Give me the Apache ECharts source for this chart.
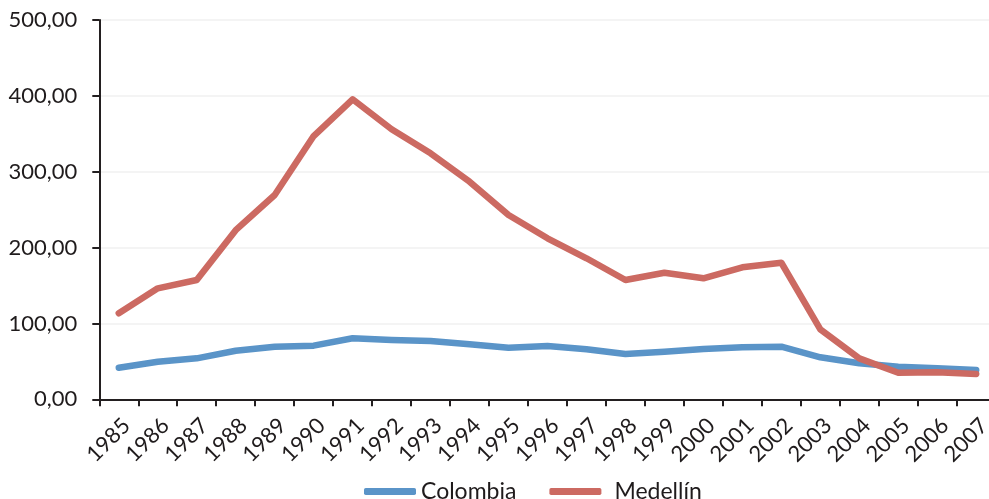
<!DOCTYPE html>
<html>
<head>
<meta charset="utf-8">
<script src="https://cdn.jsdelivr.net/npm/echarts@6/dist/echarts.min.js"></script>
<style>
  html, body { margin: 0; padding: 0; background: #fff; }
  #chart { width: 989px; height: 499px; }
</style>
</head>
<body>
<div id="chart"></div>
<script>
// Years on the category axis
const years = ['1985','1986','1987','1988','1989','1990','1991','1992','1993','1994','1995','1996',
               '1997','1998','1999','2000','2001','2002','2003','2004','2005','2006','2007'];

// Homicide rate series
const colombia = [41.7, 49.6, 54.0, 64.0, 69.3, 70.7, 80.4, 78.2, 76.9, 72.5, 68.0, 70.3,
                  65.9, 59.7, 62.8, 66.3, 68.5, 69.4, 55.4, 47.5, 43.0, 40.9, 38.6];
const medellin = [113.4, 146.3, 157.3, 223.0, 269.3, 347.0, 395.5, 356.0, 324.3, 286.9, 243.0, 212.2,
                  185.9, 157.3, 166.9, 159.5, 174.0, 180.0, 92.3, 54.0, 35.0, 35.5, 33.4];

const seriesNames = ['Colombia', 'Medellín'];
const seriesColors = ['#5a94c8', '#cc6a62'];

const FONT = 'Lato, "DejaVu Sans", sans-serif';
const TEXT = '#1f1b1c';

const chart = echarts.init(document.getElementById('chart'), null, { renderer: 'canvas' });

chart.setOption({
  animation: false,
  backgroundColor: '#ffffff',
  grid: { left: 99.3, top: 20, width: 896.4, height: 379.3, outerBoundsMode: 'none', containLabel: false },
  legend: {
    left: 359,
    top: 475,
    itemWidth: 52,
    itemHeight: 7,
    itemGap: 33,
    icon: 'roundRect',
    formatter: name => name === seriesNames[1] ? '{gap|' + name + '}' : name,
    textStyle: {
      fontFamily: FONT, fontSize: 23, color: TEXT,
      rich: { gap: { fontFamily: FONT, fontSize: 23, color: TEXT, padding: [0, 0, 0, 8] } }
    },
    data: seriesNames
  },
  xAxis: {
    type: 'category',
    data: years,
    boundaryGap: true,
    axisLine: { lineStyle: { color: '#231f20', width: 2 } },
    axisTick: { show: true, alignWithLabel: false, length: 7, lineStyle: { color: '#231f20', width: 2 } },
    axisLabel: {
      rotate: 45,
      interval: 0,
      margin: 15,
      verticalAlign: 'top',
      fontFamily: FONT,
      fontSize: 22,
      color: TEXT
    },
    splitLine: { show: false }
  },
  yAxis: {
    type: 'value',
    min: 0,
    max: 500,
    interval: 100,
    axisLine: { show: true, lineStyle: { color: '#231f20', width: 2 } },
    axisTick: { show: true, length: 7, lineStyle: { color: '#231f20', width: 2 } },
    axisLabel: {
      margin: 22,
      fontFamily: FONT,
      fontSize: 22,
      color: TEXT,
      formatter: v => v.toFixed(2).replace('.', ',')
    },
    splitLine: { show: true, lineStyle: { color: '#f0f0f0', width: 1.5 } }
  },
  series: [
    {
      name: seriesNames[0],
      type: 'line',
      data: colombia,
      showSymbol: false,
      symbol: 'none',
      color: seriesColors[0],
      lineStyle: { width: 6.5, color: seriesColors[0], cap: 'round', join: 'round' }
    },
    {
      name: seriesNames[1],
      type: 'line',
      data: medellin,
      showSymbol: false,
      symbol: 'none',
      color: seriesColors[1],
      lineStyle: { width: 6.5, color: seriesColors[1], cap: 'round', join: 'round' }
    }
  ]
});
</script>
</body>
</html>
